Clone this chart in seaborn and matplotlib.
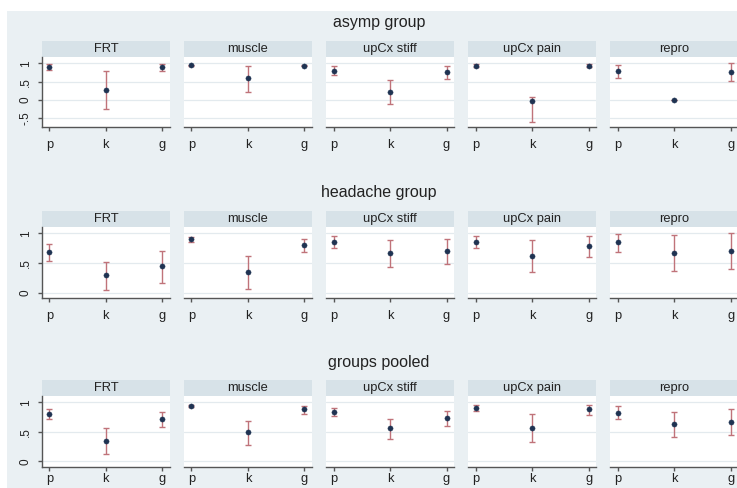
import numpy as np
import pandas as pd
import matplotlib
matplotlib.use("Agg")
import matplotlib.pyplot as plt
import seaborn as sns
from matplotlib.patches import Rectangle

sns.set_theme(style="white")
plt.rcParams['font.family'] = ['Liberation Sans', 'DejaVu Sans']

# ---- data -------------------------------------------------------------
groups = ["asymp group", "headache group", "groups pooled"]
measures = ["FRT", "muscle", "upCx stiff", "upCx pain", "repro"]
levels = ["p", "k", "g"]

# estimates and interval bounds, one row per measure (p, k, g)
asymp_est = [[0.91, 0.27, 0.91], [0.95, 0.59, 0.94], [0.80, 0.23, 0.75],
             [0.94, -0.02, 0.94], [0.79, 0.00, 0.77]]
asymp_lo = [[0.81, -0.25, 0.80], [0.94, 0.21, 0.93], [0.67, -0.11, 0.57],
            [0.90, -0.61, 0.91], [0.61, 0.00, 0.51]]
asymp_hi = [[0.99, 0.80, 0.98], [0.96, 0.93, 0.95], [0.94, 0.55, 0.94],
            [0.97, 0.09, 0.97], [0.95, 0.00, 1.00]]

headache_est = [[0.69, 0.29, 0.45], [0.90, 0.35, 0.80], [0.86, 0.66, 0.70],
                [0.86, 0.61, 0.78], [0.85, 0.66, 0.70]]
headache_lo = [[0.54, 0.05, 0.17], [0.86, 0.06, 0.68], [0.76, 0.43, 0.48],
               [0.76, 0.35, 0.60], [0.68, 0.37, 0.40]]
headache_hi = [[0.82, 0.52, 0.71], [0.93, 0.62, 0.90], [0.96, 0.88, 0.90],
               [0.96, 0.88, 0.96], [0.99, 0.97, 1.00]]

pooled_est = [[0.80, 0.34, 0.71], [0.94, 0.49, 0.89], [0.84, 0.56, 0.73],
              [0.90, 0.57, 0.89], [0.82, 0.63, 0.67]]
pooled_lo = [[0.72, 0.12, 0.58], [0.92, 0.27, 0.81], [0.76, 0.38, 0.60],
             [0.85, 0.33, 0.79], [0.71, 0.41, 0.45]]
pooled_hi = [[0.89, 0.57, 0.84], [0.96, 0.69, 0.93], [0.90, 0.72, 0.86],
             [0.95, 0.80, 0.96], [0.94, 0.84, 0.89]]

row_tick_values = [[-0.5, 0, 0.5, 1], [0, 0.5, 1], [0, 0.5, 1]]
row_tick_labels = [["-.5", "0", ".5", "1"], ["0", ".5", "1"], ["0", ".5", "1"]]

# ---- styling ----------------------------------------------------------
BG = "#EAF0F3"
STRIP = "#D7E2E8"
GRID = "#E3EAEE"
AXIS = "#555555"
POINT = "#1F3352"
BAR = "#C0737A"
TEXT = "#222222"

W, H = 737, 488
fig = plt.figure(figsize=(W / 100, H / 100), dpi=100, facecolor="white")


def fig_box(x0, y0, x1, y1):
    """Pixel box (top-left origin) to figure coordinates."""
    return [x0 / W, 1 - y1 / H, (x1 - x0) / W, (y1 - y0) / H]


# graph region background behind all panels
fig.patches.append(Rectangle((7 / W, 0), 1, 1 - 11 / H, transform=fig.transFigure,
                             facecolor=BG, edgecolor="none", zorder=-10))

rows = [
    dict(title_y=23, strip=(41, 57), plot=(57, 126.5), ylim=(-0.722, 1.172), pad=6.0),
    dict(title_y=193, strip=(211, 227), plot=(227, 298.3), ylim=(-0.094, 1.106), pad=5.5),
    dict(title_y=362, strip=(380, 396), plot=(396, 467), ylim=(-0.094, 1.106), pad=1.5),
]
series = [(asymp_est, asymp_lo, asymp_hi),
          (headache_est, headache_lo, headache_hi),
          (pooled_est, pooled_lo, pooled_hi)]

PANEL_X0, PANEL_STEP, PANEL_W = 41.7, 142.1, 128.3

for r, (group, spec, (est, lo, hi)) in enumerate(zip(groups, rows, series)):
    fig.text(379 / W, 1 - spec["title_y"] / H, group, ha="center", va="center",
             fontsize=11.5, color=TEXT, zorder=5)
    for c, measure in enumerate(measures):
        x0 = PANEL_X0 + c * PANEL_STEP
        x1 = x0 + PANEL_W

        # strip header
        sax = fig.add_axes(fig_box(x0, spec["strip"][0], x1, spec["strip"][1]))
        sax.set_zorder(2)
        sax.set_facecolor(STRIP)
        sax.set_xticks([])
        sax.set_yticks([])
        for s in sax.spines.values():
            s.set_visible(False)
        sax.text(0.5, 0.5, measure, ha="center", va="center", fontsize=9.3,
                 color=TEXT, transform=sax.transAxes)

        # plot region
        ax = fig.add_axes(fig_box(x0, spec["plot"][0], x1, spec["plot"][1]))
        ax.set_zorder(2)
        ax.set_facecolor("white")
        df = pd.DataFrame({"level": levels, "pos": np.arange(len(levels)),
                           "est": est[c], "lo": lo[c], "hi": hi[c]})
        ax.errorbar(df["pos"], df["est"],
                    yerr=[df["est"] - df["lo"], df["hi"] - df["est"]],
                    fmt="none", ecolor=BAR, elinewidth=1.0, capsize=2.0,
                    capthick=1.0, zorder=2)
        sns.scatterplot(data=df, x="pos", y="est", ax=ax, color=POINT, s=14,
                        edgecolor=POINT, linewidth=0.3, zorder=3, legend=False)

        ax.set_xlim(-0.136, 2.136)
        ax.set_ylim(*spec["ylim"])
        ax.set_xticks(df["pos"])
        ax.set_xticklabels(levels)
        ax.set_yticks(row_tick_values[r])
        ax.set_yticklabels(row_tick_labels[r], rotation=90, va="center")
        ax.set_xlabel("")
        ax.set_ylabel("")
        ax.yaxis.grid(True, color=GRID, linewidth=0.9)
        ax.set_axisbelow(True)

        for side in ("top", "right"):
            ax.spines[side].set_visible(False)
        ax.spines["bottom"].set_color(AXIS)
        ax.spines["bottom"].set_linewidth(1.0)
        ax.tick_params(axis="x", bottom=True, length=3, width=1.0, color=AXIS,
                       labelsize=9.3, labelcolor=TEXT, pad=spec["pad"])
        if c == 0:
            ax.spines["left"].set_color(AXIS)
            ax.spines["left"].set_linewidth(1.0)
            ax.tick_params(axis="y", left=True, length=3, width=1.0, color=AXIS,
                           labelsize=8.5, labelcolor=TEXT, pad=4)
        else:
            ax.spines["left"].set_visible(False)
            ax.tick_params(axis="y", left=False, labelleft=False)

fig.savefig("out.png", dpi=100, facecolor=fig.get_facecolor())
